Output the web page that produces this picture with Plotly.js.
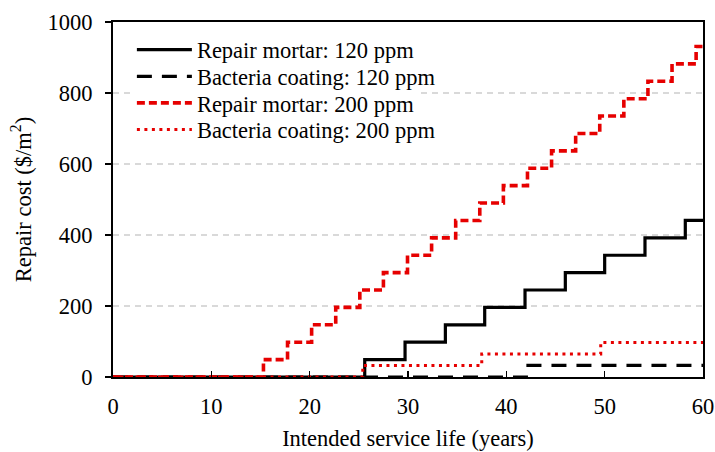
<!DOCTYPE html>
<html>
<head>
<meta charset="utf-8">
<script src="https://cdn.plot.ly/plotly-3.0.1.min.js"></script>
<style>html,body{margin:0;padding:0;background:#fff;}#chart{width:715px;height:452px;}</style>
</head>
<body>
<div id="chart"></div>
<script>
// Repair mortar, 120 ppm (step times in years, cost $/m2)
const mortar120Years = [0, 25.6, 29.7, 33.8, 37.8, 41.9, 46.0, 50.0, 54.1, 58.2, 60];
const mortar120Cost  = [0, 49, 98, 147, 196, 245, 294, 343, 392, 441, 441];
// Bacteria coating, 120 ppm
const coating120Years = [0, 42.2, 60];
const coating120Cost  = [0, 32.5, 32.5];
// Repair mortar, 200 ppm
const mortar200Years = [0, 15.3, 17.75, 20.2, 22.65, 25.1, 27.5, 29.95, 32.4, 34.85, 37.3, 39.7, 42.15, 44.6, 47.05, 49.5, 51.95, 54.4, 56.85, 59.3, 60];
const mortar200Cost  = [0, 49, 98, 147, 196, 245, 294, 343, 392, 441, 490, 539, 588, 637, 686, 735, 784, 833, 882, 931, 931];
// Bacteria coating, 200 ppm
const coating200Years = [0, 25.4, 37.5, 49.6, 60];
const coating200Cost  = [0, 32.5, 65, 97.5, 97.5];

const seriesNames = ["Repair mortar: 120 ppm", "Bacteria coating: 120 ppm", "Repair mortar: 200 ppm", "Bacteria coating: 200 ppm"];
const xTicks = [0, 10, 20, 30, 40, 50, 60];
const yTicks = [0, 200, 400, 600, 800, 1000];

const FONT = "Liberation Serif, Times New Roman, serif";
const FS = 22.5;
const RED = "#e60000";

// The row with a white background is drawn first ("legend"), the others on top of it
const traces = [
  {x: mortar120Years, y: mortar120Cost, name: seriesNames[0], legend: "legend2", mode: "lines", line: {shape: "hv", color: "#000", width: 3.2}},
  {x: coating120Years, y: coating120Cost, name: seriesNames[1], legend: "legend3", mode: "lines", line: {shape: "hv", color: "#000", width: 3.2, dash: "15px,10px"}},
  {x: mortar200Years, y: mortar200Cost, name: seriesNames[2], legend: "legend", mode: "lines", line: {shape: "hv", color: RED, width: 3.6, dash: "8px,4px"}},
  {x: coating200Years, y: coating200Cost, name: seriesNames[3], legend: "legend4", mode: "lines", line: {shape: "hv", color: RED, width: 3, dash: "3px,4.5px"}}
].map(t => Object.assign(t, {cliponaxis: false, hoverinfo: "skip"}));

function leg(y, bg) {
  return {x: 0.032, y: y, xanchor: "left", yanchor: "middle", bgcolor: bg, borderwidth: 0,
          font: {family: FONT, size: FS, color: "#000"}, itemwidth: 55};
}

const layout = {
  width: 715, height: 452,
  margin: {l: 113, r: 12, t: 22, b: 75},
  paper_bgcolor: "#fff", plot_bgcolor: "#fff",
  font: {family: FONT, size: FS, color: "#000"},
  showlegend: true,
  legend: leg(0.771, "#fff"),
  legend2: leg(0.921, "rgba(0,0,0,0)"),
  legend3: leg(0.846, "rgba(0,0,0,0)"),
  legend4: leg(0.696, "rgba(0,0,0,0)"),
  xaxis: {
    range: [0, 60], tickmode: "array", tickvals: xTicks, ticktext: xTicks.map(String),
    ticks: "inside", ticklen: 6, tickwidth: 1.2, tickcolor: "#000",
    showline: true, linecolor: "#000", linewidth: 2, mirror: true,
    showgrid: false, zeroline: false, ticklabelstandoff: 8,
    tickfont: {family: FONT, size: FS},
    title: {text: "Intended service life (years)", font: {family: FONT, size: FS}, standoff: 12}
  },
  yaxis: {
    range: [0, 1000], tickmode: "array", tickvals: yTicks, ticktext: yTicks.map(String),
    ticks: "outside", ticklen: 6, tickwidth: 1.2, tickcolor: "#000",
    showline: true, linecolor: "#000", linewidth: 2, mirror: true,
    showgrid: true, gridcolor: "#d9d9d9", gridwidth: 1.5, griddash: "6px,5px",
    zeroline: false, ticklabelstandoff: 8,
    tickfont: {family: FONT, size: FS},
    title: {text: "Repair cost ($/m<sup>2</sup>)", font: {family: FONT, size: FS}, standoff: 10}
  }
};

Plotly.newPlot("chart", traces, layout, {displayModeBar: false, staticPlot: true});
</script>
</body>
</html>
